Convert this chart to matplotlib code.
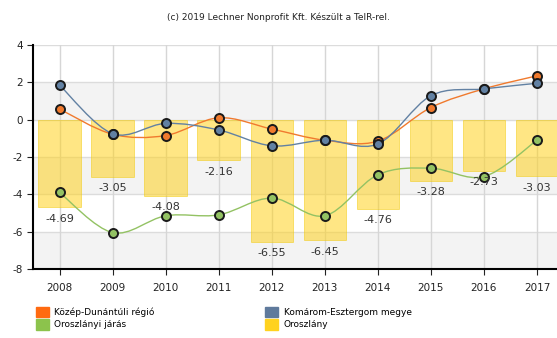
import matplotlib
matplotlib.use("Agg")
import matplotlib.pyplot as plt
from matplotlib.path import Path
from matplotlib.patches import PathPatch, Patch

years = [2008, 2009, 2010, 2011, 2012, 2013, 2014, 2015, 2016, 2017]
kozep_dunantul = [0.57, -0.78, -0.85, 0.10, -0.50, -1.10, -1.15, 0.65, 1.65, 2.35]
komarom = [1.85, -0.75, -0.20, -0.55, -1.40, -1.10, -1.30, 1.28, 1.65, 1.95]
oroszlany_jaras = [-3.90, -6.05, -5.15, -5.10, -4.20, -5.15, -2.95, -2.60, -3.05, -1.10]
oroszlany = [-4.69, -3.05, -4.08, -2.16, -6.55, -6.45, -4.76, -3.28, -2.73, -3.03]

ORANGE = "#F07A2E"
BLUE = "#6281A3"
GREEN = "#93C263"
YELLOW = "#FFD21F"

plt.rcParams["axes.unicode_minus"] = False


def smooth_path(xs, ys, tension=0.5):
    # Catmull-Rom style bezier through the points
    verts = [(xs[0], ys[0])]
    codes = [Path.MOVETO]
    n = len(xs)
    for i in range(n - 1):
        x0, y0 = xs[max(i - 1, 0)], ys[max(i - 1, 0)]
        x1, y1 = xs[i], ys[i]
        x2, y2 = xs[i + 1], ys[i + 1]
        x3, y3 = xs[min(i + 2, n - 1)], ys[min(i + 2, n - 1)]
        c1 = (x1 + (x2 - x0) * tension / 3, y1 + (y2 - y0) * tension / 3)
        c2 = (x2 - (x3 - x1) * tension / 3, y2 - (y3 - y1) * tension / 3)
        verts += [c1, c2, (x2, y2)]
        codes += [Path.CURVE4] * 3
    return Path(verts, codes)


fig = plt.figure(figsize=(5.57, 3.38), dpi=100)
ax = fig.add_axes([33 / 557, 69 / 338, 530.5 / 557, 224 / 338])

ax.set_xlim(2007.5, 2017.5)
ax.set_ylim(-8, 4)

for lo, hi in [(0, 2), (-4, -2), (-8, -6)]:
    ax.axhspan(lo, hi, color="#f3f3f3", zorder=0, lw=0)
for y in range(-8, 5, 2):
    ax.axhline(y, color="#dcdcdc", lw=1, zorder=0.5)
for x in years:
    ax.axvline(x, color="#d6d6d6", lw=1, zorder=0.5)

ax.bar(years, oroszlany, width=0.8, color=YELLOW, alpha=0.55,
       edgecolor="#f0c800", linewidth=0.6, zorder=1)
for x, v in zip(years, oroszlany):
    ax.text(x, v - 0.35, f"{v:.2f}", ha="center", va="top", fontsize=8,
            color="#333333", zorder=5)

for vals, col in [(kozep_dunantul, ORANGE), (komarom, BLUE), (oroszlany_jaras, GREEN)]:
    ax.add_patch(PathPatch(smooth_path(years, vals), fill=False,
                           edgecolor=col, lw=1.0, zorder=3))
    ax.plot(years, vals, ls="none", marker="o", ms=6.5, mfc=col,
            mec="#1a1a1a", mew=1.4, zorder=4)

ax.set_yticks(range(-8, 5, 2))
ax.set_xticks(years)
ax.tick_params(axis="both", labelsize=7.5, colors="#222222", length=4)
ax.tick_params(axis="x", pad=6)
for side in ["top", "right"]:
    ax.spines[side].set_visible(False)
ax.spines["left"].set_linewidth(1.5)
ax.spines["bottom"].set_linewidth(1.5)

fig.text(0.5, 1 - 17 / 338, "(c) 2019 Lechner Nonprofit Kft. Készült a TeIR-rel.",
         ha="center", va="center", fontsize=6.5, color="#222222")

# legend fills column-wise, so order orange, green | blue, yellow
handles = [Patch(color="#FF6A10"), Patch(color="#8CC34C"),
           Patch(color="#5F7A9C"), Patch(color="#FFD21F")]
labels = ["Közép-Dunántúli régió", "Oroszlányi járás",
          "Komárom-Esztergom megye", "Oroszlány"]
fig.legend(handles, labels, loc="upper left", bbox_to_anchor=(36 / 557, 1 - 307 / 338),
           ncol=2, frameon=False, fontsize=6.5, handlelength=1.4, handleheight=1.4,
           columnspacing=12.3, labelspacing=0.2, handletextpad=0.6,
           borderaxespad=0, borderpad=0)

fig.savefig("out.png", dpi=100)
